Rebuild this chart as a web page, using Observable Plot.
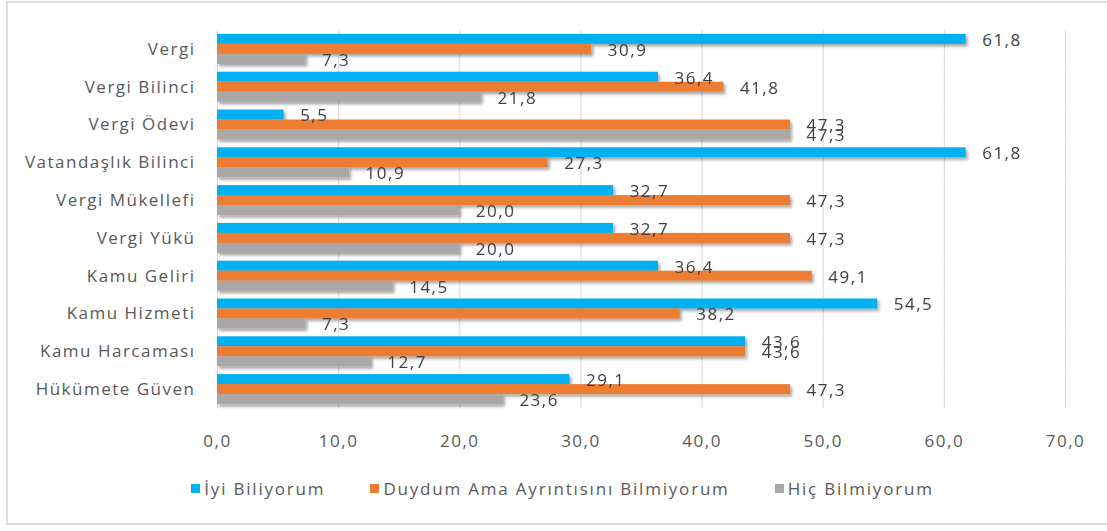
<!DOCTYPE html>
<html>
<head>
<meta charset="utf-8">
<script src="https://cdn.jsdelivr.net/npm/d3@7"></script>
<script src="https://cdn.jsdelivr.net/npm/@observablehq/plot@0.6"></script>
<style>
  html, body { margin: 0; padding: 0; background: #fff; }
  body { position: relative; width: 1107px; height: 531px; overflow: hidden; font-family: "Open Sans", sans-serif; }
  #frame { position: absolute; left: 6px; top: 1px; width: 1110px; height: 524px; border: 2px solid #dcdcdc; box-sizing: border-box; }
  #chart { position: absolute; left: 0; top: 0; }
  #chart svg text { letter-spacing: 1.5px; }
  #legend { position: absolute; left: 9px; top: 477px; width: 1107px; display: flex; justify-content: center; gap: 45px; font-size: 17px; letter-spacing: 1.8px; color: #595959; }
  #legend .item { display: flex; align-items: center; gap: 4px; }
  #legend .sw { width: 9px; height: 9px; display: inline-block; }
</style>
</head>
<body>
<div id="frame"></div>
<div id="chart"></div>
<div id="legend"></div>
<script>
// Survey: awareness of tax and public-finance concepts (%)
const categories = [
  "Vergi", "Vergi Bilinci", "Vergi Ödevi", "Vatandaşlık Bilinci", "Vergi Mükellefi",
  "Vergi Yükü", "Kamu Geliri", "Kamu Hizmeti", "Kamu Harcaması", "Hükümete Güven"
];
const series = ["İyi Biliyorum", "Duydum Ama Ayrıntısını Bilmiyorum", "Hiç Bilmiyorum"];
const iyiBiliyorum = [61.8, 36.4, 5.5, 61.8, 32.7, 32.7, 36.4, 54.5, 43.6, 29.1];
const duydumAma    = [30.9, 41.8, 47.3, 27.3, 47.3, 47.3, 49.1, 38.2, 43.6, 47.3];
const hicBilmiyorum = [7.3, 21.8, 47.3, 10.9, 20.0, 20.0, 14.5, 7.3, 12.7, 23.6];
const xTicks = [0, 10, 20, 30, 40, 50, 60, 70];
const colors = ["#00b0f0", "#ed7d31", "#aaa7a6"];

const values = [iyiBiliyorum, duydumAma, hicBilmiyorum];
const rows = categories.flatMap((c, i) =>
  series.map((s, j) => ({category: c, series: s, value: values[j][i]}))
);
const fmt = d => d.toFixed(1).replace(".", ",");

const chart = Plot.plot({
  width: 1107,
  height: 460,
  marginLeft: 217,
  marginRight: 42,
  marginTop: 30,
  marginBottom: 52,
  style: {fontFamily: "'Open Sans', sans-serif", fontSize: "17px", color: "#595959", background: "transparent"},
  x: {domain: [0, 70], ticks: xTicks, tickFormat: fmt, tickSize: 0, tickPadding: 26, label: null},
  fy: {domain: categories, padding: 0, round: false, label: null, tickSize: 0, tickPadding: 22},
  y: {domain: series, axis: null, paddingInner: 0, paddingOuter: 0.39, round: false},
  color: {domain: series, range: colors},
  marks: [
    Plot.ruleX(xTicks, {stroke: "#d9d9d9", strokeWidth: 1}),
    Plot.barX(rows, {fy: "category", y: "series", x: "value", fill: "series"}),
    Plot.text(rows, {
      fy: "category", y: "series", x: "value", text: d => fmt(d.value),
      textAnchor: "start", dx: 16, dy: 1, fill: "#404040", fontSize: 17
    })
  ]
});

// soft drop shadow under the bars
const ns = "http://www.w3.org/2000/svg";
const defs = document.createElementNS(ns, "defs");
defs.innerHTML = `<filter id="barShadow" x="-5%" y="-50%" width="110%" height="220%">
  <feDropShadow dx="2" dy="2.5" stdDeviation="1.6" flood-color="#000" flood-opacity="0.35"/>
</filter>`;
chart.insertBefore(defs, chart.firstChild);
chart.querySelectorAll('g[aria-label="bar"]').forEach(g => g.setAttribute("filter", "url(#barShadow)"));

document.getElementById("chart").appendChild(chart);

// legend
const legend = d3.select("#legend");
series.forEach((s, i) => {
  const item = legend.append("div").attr("class", "item");
  item.append("span").attr("class", "sw").style("background", colors[i]);
  item.append("span").text(s);
});
</script>
</body>
</html>
